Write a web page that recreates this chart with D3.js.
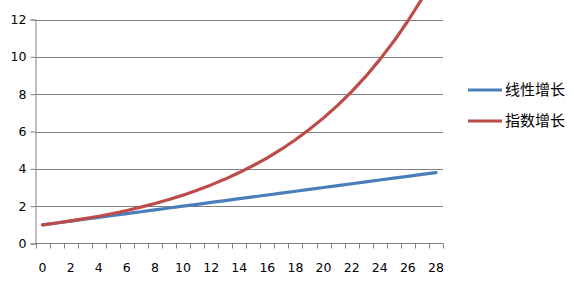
<!DOCTYPE html>
<html><head><meta charset="utf-8">
<script src="https://cdn.jsdelivr.net/npm/d3@7"></script>
<style>body{margin:0;background:#fff}svg{display:block}</style>
</head><body>
<script>
const categories = [0,1,2,3,4,5,6,7,8,9,10,11,12,13,14,15,16,17,18,19,20,21,22,23,24,25,26,27,28];
const seriesNames = ["线性增长","指数增长"];
const linear = [1,1.1,1.2,1.3,1.4,1.5,1.6,1.7,1.8,1.9,2,2.1,2.2,2.3,2.4,2.5,2.6,2.7,2.8,2.9,3,3.1,3.2,3.3,3.4,3.5,3.6,3.7,3.8];
const exponential = [1,1.1,1.21,1.33,1.46,1.61,1.77,1.95,2.14,2.36,2.59,2.85,3.14,3.45,3.8,4.18,4.59,5.05,5.56,6.12,6.73,7.4,8.14,8.95,9.85,10.83,11.92,13.11,14.42];
const yTicks = [0,2,4,6,8,10,12];
const xLabels = [0,2,4,6,8,10,12,14,16,18,20,22,24,26,28];
const colors = ["#4a7ebb","#be4b48"];

const W=574,H=284;
const svg=d3.select("body").append("svg").attr("width",W).attr("height",H);
const x=d3.scaleBand().domain(categories).range([35.5,443]).padding(0);
const y=d3.scaleLinear().domain([0,12]).range([243.5,19.5]);
const cx=d=>x(d)+x.bandwidth()/2;

// gridlines
svg.append("g").selectAll("line").data(yTicks.filter(v=>v>0)).join("line")
  .attr("x1",35.5).attr("x2",443).attr("y1",d=>Math.round(y(d))+0.5).attr("y2",d=>Math.round(y(d))+0.5)
  .attr("stroke","#808080").attr("stroke-width",1);

// y axis
const ya=svg.append("g").attr("transform","translate(35.5,0)")
  .call(d3.axisLeft(y).tickValues(yTicks).tickSize(5).tickPadding(4).tickFormat(d3.format("d")));
ya.select(".domain").attr("stroke","#808080");
ya.selectAll(".tick line").attr("stroke","#808080");
ya.selectAll("text").attr("font-family","DejaVu Sans").attr("font-size",12.5).attr("fill","#000");

// x axis
const xa=svg.append("g").attr("transform","translate(0,243.5)");
xa.append("line").attr("x1",35.5).attr("x2",443).attr("stroke","#808080");
const bounds=categories.map(c=>x(c)).concat([x(categories[categories.length-1])+x.bandwidth()]);
xa.selectAll("line.t").data(bounds).join("line").attr("class","t")
  .attr("x1",d=>Math.round(d)+0.5).attr("x2",d=>Math.round(d)+0.5).attr("y1",0).attr("y2",5).attr("stroke","#808080");
xa.selectAll("text").data(xLabels).join("text")
  .attr("x",d=>cx(d)).attr("y",28).attr("text-anchor","middle")
  .attr("font-family","DejaVu Sans").attr("font-size",12.5).attr("fill","#000").text(d=>d);

// lines
const line=d3.line().x((d,i)=>cx(categories[i])).y(d=>y(d));
[linear,exponential].forEach((s,i)=>{
  svg.append("path").datum(s).attr("d",line).attr("fill","none")
    .attr("stroke",colors[i]).attr("stroke-width",3.2).attr("stroke-linejoin","round").attr("stroke-linecap","round");
});

// legend
const lg=svg.append("g");
seriesNames.forEach((n,i)=>{
  const ly=90+i*31;
  lg.append("line").attr("x1",468).attr("x2",502).attr("y1",ly).attr("y2",ly).attr("stroke",colors[i]).attr("stroke-width",3);
  lg.append("text").attr("x",505).attr("y",ly).attr("dy","0.35em")
    .attr("font-family","Noto Sans CJK SC").attr("font-size",15).attr("fill","#000").text(n);
});
</script>
</body></html>
